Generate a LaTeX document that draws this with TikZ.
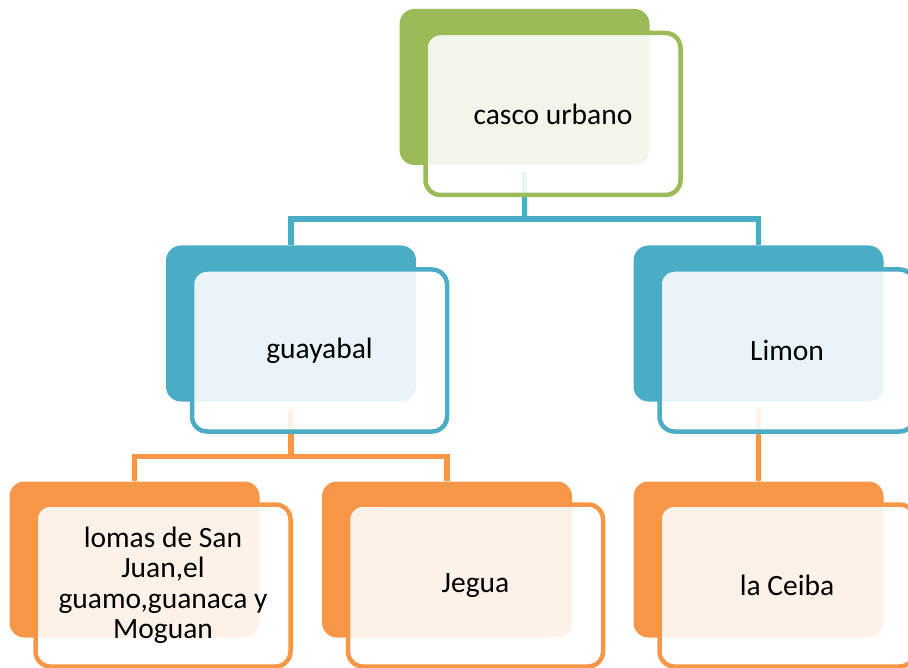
\documentclass[tikz,border=0pt]{standalone}
\usepackage{fontspec}
\setmainfont{Carlito}
\definecolor{sagreen}{RGB}{155,187,89}
\definecolor{sablue}{RGB}{75,172,198}
\definecolor{saorange}{RGB}{247,150,70}
\usepackage{tikz}

\begin{document}
\begin{tikzpicture}[x=1pt,y=-1pt]

%
% Styles
%
\tikzset{
  backbox/.style={rectangle,rounded corners=15pt,fill=#1,inner sep=0pt,
    minimum width=250pt,minimum height=156pt},
  frontbox/.style={rectangle,rounded corners=15pt,draw=#1,line width=4.5pt,
    fill=white,fill opacity=0.88,text opacity=1,inner sep=0pt,align=center,
    minimum width=255pt,minimum height=162pt,
    font=\fontsize{29.5}{30.5}\selectfont},
  link/.style={draw=#1,line width=5.5pt,shorten <=7pt}
}

\clip (0,0) rectangle (908,668);

% back boxes
\node[backbox=sagreen]  (cu-b) at (524.5, 87)  {};
\node[backbox=sablue]   (gu-b) at (291, 323.5) {};
\node[backbox=sablue]   (li-b) at (758.5,323.5) {};
\node[backbox=saorange] (lo-b) at (134.5,559.5) {};
\node[backbox=saorange] (je-b) at (447, 559.5) {};
\node[backbox=saorange] (ce-b) at (758.5,559.5) {};

% connectors
\draw[link=sablue] (cu-b.south) -- ++(0,54) -| (gu-b.north);
\draw[link=sablue] (cu-b.south) -- ++(0,54) -| (li-b.north);
\draw[link=saorange] (gu-b.south) -- ++(0,55) -| (lo-b.north);
\draw[link=saorange] (gu-b.south) -- ++(0,55) -| (je-b.north);
\draw[link=saorange] (li-b.south) -- (ce-b.north);

% front boxes
\node[frontbox=sagreen]  (cu) at ([shift={(28.5,27)}]cu-b.center) {casco urbano};
\node[frontbox=sablue]   (gu) at ([shift={(28.5,27)}]gu-b.center) {guayabal};
\node[frontbox=sablue]   (li) at ([shift={(28.5,27)}]li-b.center) {Limon};
\node[frontbox=saorange] (lo) at ([shift={(28.5,26)}]lo-b.center)
  {lomas de San\\Juan,el\\guamo,guanaca y\\Moguan};
\node[frontbox=saorange] (je) at ([shift={(28.5,26)}]je-b.center) {Jegua};
\node[frontbox=saorange] (ce) at ([shift={(28.5,26)}]ce-b.center) {la Ceiba};

\end{tikzpicture}
\end{document}
